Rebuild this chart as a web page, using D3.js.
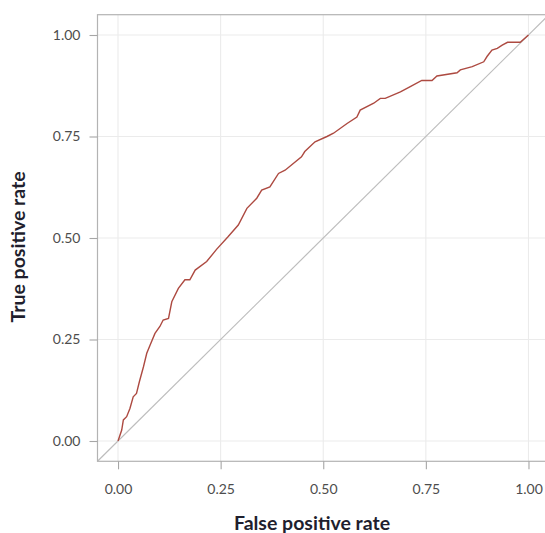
<!DOCTYPE html>
<html>
<head>
<meta charset="utf-8">
<script src="https://d3js.org/d3.v7.min.js"></script>
<style>
  body { margin: 0; background: #fff; }
  text { font-family: Lato, "Open Sans", sans-serif; }
</style>
</head>
<body>
<div id="chart"></div>
<script>
// ROC curve points
var fpr = [0, 0.009, 0.013, 0.021, 0.029, 0.037, 0.045, 0.052, 0.062, 0.070, 0.078, 0.090,
  0.102, 0.110, 0.123, 0.131, 0.147, 0.163, 0.175, 0.188, 0.216, 0.240, 0.268, 0.293,
  0.314, 0.338, 0.350, 0.370, 0.391, 0.407, 0.447, 0.455, 0.480, 0.509, 0.525, 0.558,
  0.582, 0.590, 0.623, 0.639, 0.651, 0.688, 0.712, 0.740, 0.765, 0.777, 0.826, 0.834,
  0.863, 0.891, 0.899, 0.911, 0.924, 0.936, 0.949, 0.980, 1];
var tpr = [0, 0.027, 0.052, 0.060, 0.080, 0.109, 0.117, 0.146, 0.183, 0.216, 0.236, 0.265,
  0.282, 0.298, 0.302, 0.343, 0.376, 0.397, 0.397, 0.421, 0.442, 0.472, 0.503, 0.532,
  0.573, 0.598, 0.618, 0.626, 0.659, 0.667, 0.700, 0.713, 0.737, 0.750, 0.758, 0.782,
  0.798, 0.815, 0.832, 0.844, 0.844, 0.860, 0.873, 0.888, 0.888, 0.899, 0.907, 0.914,
  0.922, 0.934, 0.947, 0.963, 0.967, 0.975, 0.982, 0.982, 1];
var ticks = [0, 0.25, 0.5, 0.75, 1];
var tickLabels = ["0.00", "0.25", "0.50", "0.75", "1.00"];

var W = 545, H = 533;
var margin = {top: 14.7, right: 0, bottom: 71.7, left: 97.5};
var width = 451.5, height = H - margin.top - margin.bottom;

var svg = d3.select("#chart").append("svg")
  .attr("width", W)
  .attr("height", H);

var g = svg.append("g")
  .attr("transform", "translate(" + margin.left + "," + margin.top + ")");

var x = d3.scaleLinear().domain([-0.05, 1.05]).range([0, width]);
var y = d3.scaleLinear().domain([-0.05, 1.05]).range([height, 0]);

// grid
g.selectAll(".vgrid").data(ticks).enter().append("line")
  .attr("x1", function(d) { return x(d); }).attr("x2", function(d) { return x(d); })
  .attr("y1", 0).attr("y2", height)
  .attr("stroke", "#ebebeb").attr("stroke-width", 1.1);
g.selectAll(".hgrid").data(ticks).enter().append("line")
  .attr("y1", function(d) { return y(d); }).attr("y2", function(d) { return y(d); })
  .attr("x1", 0).attr("x2", width)
  .attr("stroke", "#ebebeb").attr("stroke-width", 1.1);

// diagonal
g.append("line")
  .attr("x1", x(-0.05)).attr("y1", y(-0.05))
  .attr("x2", x(1.05)).attr("y2", y(1.05))
  .attr("stroke", "#bdbdbd").attr("stroke-width", 1.2);

// roc curve
var line = d3.line()
  .x(function(d, i) { return x(fpr[i]); })
  .y(function(d, i) { return y(tpr[i]); });
g.append("path")
  .datum(fpr)
  .attr("d", line)
  .attr("fill", "none")
  .attr("stroke", "#ad4a41")
  .attr("stroke-width", 1.4);

// panel border
g.append("rect")
  .attr("width", width).attr("height", height)
  .attr("fill", "none").attr("stroke", "#b3b3b3").attr("stroke-width", 1.2);

// axes
var xAxis = g.append("g")
  .attr("transform", "translate(0," + height + ")")
  .call(d3.axisBottom(x).tickValues(ticks).tickSize(8).tickPadding(15)
    .tickFormat(function(d, i) { return tickLabels[i]; }));
var yAxis = g.append("g")
  .call(d3.axisLeft(y).tickValues(ticks).tickSize(8).tickPadding(9)
    .tickFormat(function(d, i) { return tickLabels[i]; }));
[xAxis, yAxis].forEach(function(a) {
  a.select(".domain").remove();
  a.selectAll(".tick line").attr("stroke", "#a6a6a6").attr("stroke-width", 1.1);
  a.selectAll(".tick text").attr("fill", "#4d4d4d")
    .style("font-size", "14px").style("font-family", "Lato, sans-serif");
});

// axis titles
svg.append("text")
  .attr("x", 312)
  .attr("y", 530)
  .attr("text-anchor", "middle")
  .attr("fill", "#1f1f2e")
  .style("font-size", "19.5px")
  .style("font-weight", "bold")
  .text("False positive rate");

svg.append("text")
  .attr("transform", "translate(25,247) rotate(-90)")
  .attr("text-anchor", "middle")
  .attr("fill", "#1f1f2e")
  .style("font-size", "19.5px")
  .style("font-weight", "bold")
  .text("True positive rate");
</script>
</body>
</html>
